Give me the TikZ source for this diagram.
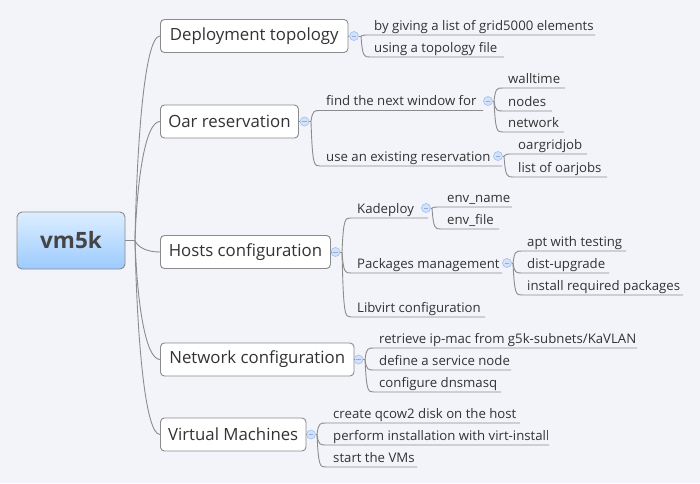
\documentclass[tikz,border=0pt]{standalone}
\usepackage{fontspec}
\setmainfont{Open Sans}
\usetikzlibrary{calc}
\definecolor{bg}{HTML}{F3F4F9}
\definecolor{linegray}{HTML}{8C8C8C}
\definecolor{boxgray}{HTML}{8A8A8A}
\definecolor{txt}{HTML}{333333}
\definecolor{roottxt}{HTML}{454545}
\definecolor{circfill}{HTML}{D3E2F8}
\definecolor{circline}{HTML}{A8C3EE}
\definecolor{minuscol}{HTML}{8CAEE6}
\definecolor{roottop}{HTML}{DDEEFF}
\definecolor{rootbot}{HTML}{9CCBFF}
\newcommand\mmsub[7]{%
  \coordinate (#1-a) at ($(#2 |- 0,#3)+(9,0)$);
  \coordinate (#1-b) at (#5,#3);
  \draw[conn] (#2) .. controls ($(#2 |- 0,#3)+(1.5,0)$) and ($(#2 |- 0,#3)+(3,0)$) .. (#1-a) -- (#1-b);
  \begin{scope}
    \clip (#4-3,#3-20) rectangle (#6,#3+3);
    \node[subtext] (#1) at (#4,#3-5) {#7};
  \end{scope}}
\tikzset{
  conn/.style={draw=linegray, line width=0.9pt},
  topic/.style={draw=boxgray, fill=white, rounded corners=4pt, line width=0.9pt,
    inner sep=0pt, minimum height=33pt, font=\fontsize{16.8}{18}\selectfont, text=txt, anchor=west},
  rootbox/.style={draw=boxgray, rounded corners=5pt, line width=0.9pt, top color=roottop,
    bottom color=rootbot, minimum width=108pt, minimum height=57pt, inner sep=0pt,
    font=\fontsize{22.5}{24}\selectfont\bfseries, text=roottxt},
  subtext/.style={inner sep=0pt, font=\fontsize{13.2}{15}\selectfont, text=txt, anchor=base west},
  circ/.style={circle, draw=circline, fill=circfill, minimum size=9pt, inner sep=0pt, line width=0.7pt,
    path picture={\draw[minuscol, line width=0.8pt]
      ([xshift=-2.3pt]path picture bounding box.center) -- ([xshift=2.3pt]path picture bounding box.center);}},
}
\begin{document}
\begin{tikzpicture}[x=1pt,y=-1pt]
\useasboundingbox (0,0) rectangle (700,483);
\fill[bg] (0,0) rectangle (700,483);

% root and main topics
\node[rootbox] (root) at (71,240.5) {vm5k};
\node[topic, minimum width=187.5pt] (dt) at (160,36) {Deployment topology};
\node[topic, minimum width=138pt] (or) at (160,121.5) {Oar reservation};
\node[topic, minimum width=170pt] (hc) at (160,252) {Hosts configuration};
\node[topic, minimum width=193.5pt] (nc) at (160,359.5) {Network configuration};
\node[topic, minimum width=145.5pt] (vm) at (160,434.5) {Virtual Machines};

\coordinate (rj) at (135,240.5);
\draw[conn] (root.east) -- (rj);
\draw[conn] (rj) .. controls (137,138) and (145,36) .. (dt.west);
\draw[conn] (rj) .. controls (137,181) and (145,121.5) .. (or.west);
\draw[conn] (rj) .. controls (137,246) and (145,252) .. (hc.west);
\draw[conn] (rj) .. controls (137,300) and (145,359.5) .. (nc.west);
\draw[conn] (rj) .. controls (137,337.5) and (145,434.5) .. (vm.west);

% collapse circles of main topics
\node[circ] (dtc) at (354,36) {};
\node[circ] (orc) at (304.5,121.5) {};
\node[circ] (hcc) at (335.5,252) {};
\node[circ] (ncc) at (358.5,359.5) {};
\node[circ] (vmc) at (311,434.5) {};
\foreach \t in {dt,or,hc,nc,vm} {\draw[conn] (\t.east) -- (\t c.west);}

\coordinate (dj) at (361,36);
\coordinate (oj) at (311,121.5);
\coordinate (hj) at (342,252);
\coordinate (nj) at (365,359.5);
\coordinate (vj) at (317,434.5);
\draw[conn] (dtc.east) -- (dj);
\draw[conn] (orc.east) -- (oj);
\draw[conn] (hcc.east) -- (hj);
\draw[conn] (ncc.east) -- (nj);
\draw[conn] (vmc.east) -- (vj);

% Deployment topology
\mmsub{d1}{dj}{35}{374}{595}{593}{by giving a list of grid5000 elements}
\mmsub{d2}{dj}{57}{374}{504}{504}{using a topology file}

% Oar reservation
\mmsub{o1}{oj}{110.5}{326}{483}{483}{find the next window for}
\mmsub{o2}{oj}{166}{326}{502}{489}{use an existing reservation}
\node[circ] (o1c) at (488,101) {};
\node[circ] (o2c) at (498,156) {};
\coordinate (o1j) at (494,101);
\coordinate (o2j) at (504,156);
\draw[conn] (o1c.east) -- (o1j);
\draw[conn] (o2c.east) -- (o2j);
\mmsub{w1}{o1j}{88}{508}{565}{565}{walltime}
\mmsub{w2}{o1j}{111}{508}{552}{552}{nodes}
\mmsub{w3}{o1j}{132}{508}{564}{564}{network}
\mmsub{u1}{o2j}{154}{518}{587}{587}{oargridjob}
\mmsub{u2}{o2j}{177}{518}{607}{607}{list of oarjobs}

% Hosts configuration
\mmsub{h1}{hj}{218}{357}{428}{420}{Kadeploy}
\mmsub{h2}{hj}{273}{357}{502}{500}{Packages management}
\mmsub{h3}{hj}{317}{357}{485}{485}{Libvirt configuration}
\node[circ] (h1c) at (426,208) {};
\node[circ] (h2c) at (507,263) {};
\coordinate (h1j) at (432,208);
\coordinate (h2j) at (513,263);
\draw[conn] (h1c.east) -- (h1j);
\draw[conn] (h2c.east) -- (h2j);
\mmsub{k1}{h1j}{207}{447}{512}{512}{env\_name}
\mmsub{k2}{h1j}{229}{447}{499}{499}{env\_file}
\mmsub{p1}{h2j}{251}{527}{626}{626}{apt with testing}
\mmsub{p2}{h2j}{273}{527}{609}{609}{dist-upgrade}
\mmsub{p3}{h2j}{295}{527}{683}{681}{install required packages}

% Network configuration
\mmsub{n1}{nj}{348}{379}{637}{635}{retrieve ip-mac from g5k-subnets/KaVLAN}
\mmsub{n2}{nj}{370}{379}{511}{509}{define a service node}
\mmsub{n3}{nj}{392}{379}{501}{501}{configure dnsmasq}

% Virtual Machines
\mmsub{v1}{vj}{423}{333}{520}{520}{create qcow2 disk on the host}
\mmsub{v2}{vj}{445}{333}{549}{547}{perform installation with virt-install}
\mmsub{v3}{vj}{467}{333}{417}{415}{start the VMs}
\end{tikzpicture}
\end{document}
